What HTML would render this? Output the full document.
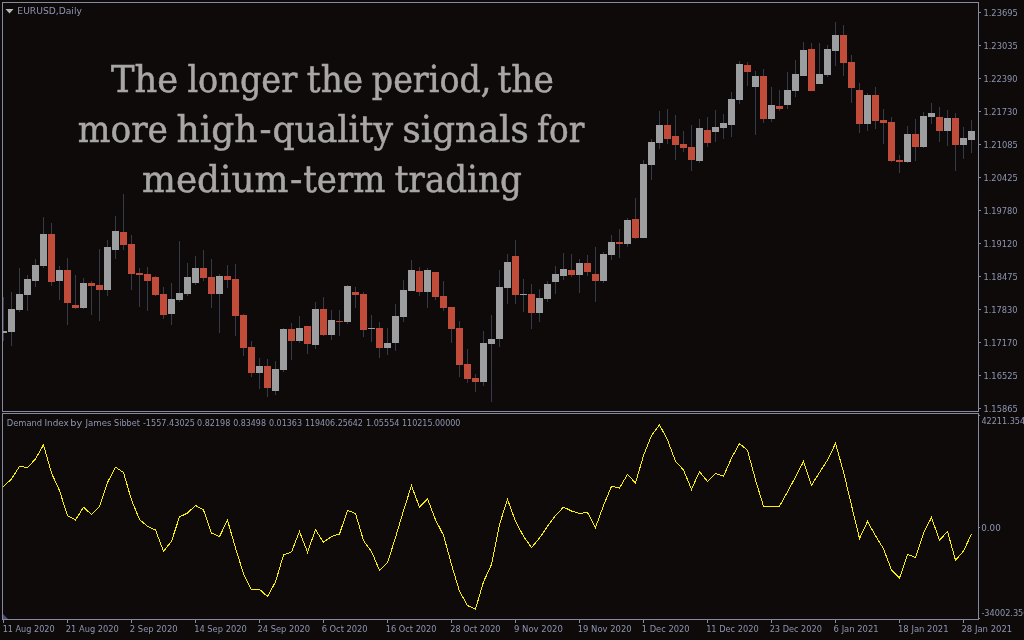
<!DOCTYPE html>
<html lang="en"><head><meta charset="utf-8"><title>EURUSD Daily - Demand Index</title>
<style>
html,body{margin:0;padding:0;background:#0e0a09;}
body{width:1024px;height:640px;overflow:hidden;position:relative;font-family:"Liberation Sans",sans-serif;}
svg{position:absolute;left:0;top:0;display:block;}
.t{font-family:"DejaVu Sans Condensed","Liberation Sans",sans-serif;font-size:9.5px;fill:#8d95b0;}
.h{font-family:"DejaVu Serif Condensed","DejaVu Serif","Liberation Serif",serif;font-size:37.5px;fill:#a8a7a6;stroke:#a8a7a6;stroke-width:0.5px;}
</style></head><body>
<svg width="1024" height="640" viewBox="0 0 1024 640">
<rect x="0" y="0" width="1024" height="640" fill="#0e0a09"/>
<g shape-rendering="crispEdges">
<path d="M3 297v44M11 292v54M19 268v44M27 275v36M35 259v28M43 217v51M51 223v63M59 266v34M67 258v67M75 275v34M83 278v31M91 281v34M99 249v72M107 240v56M115 216v43M123 194v56M131 235v55M139 268v39M147 267v44M155 276v20M163 287v32M171 283v42M179 241v61M187 263v33M195 256v29M203 250v31M211 259v49M219 274v59M227 265v23M235 264v72M243 314v42M251 341v36M259 358v31M267 359v38M275 361v34M283 328v44M291 323v37M299 316v27M307 326v28M315 302v47M323 297v39M331 310v30M339 310v26M347 285v39M355 287v21M363 292v45M371 315v27M379 322v36M387 328v27M395 304v47M403 280v42M411 260v31M419 267v29M427 268v40M435 272v28M443 281v30M451 307v36M459 321v56M467 349v34M475 374v18M483 331v55M491 315v87M499 270v77M507 254v50M515 240v64M523 279v33M531 284v45M539 289v33M547 281v21M555 266v28M563 253v27M571 254v23M579 259v34M587 255v21M595 247v55M603 252v31M611 235v25M619 229v29M627 218v29M635 198v41M643 160v78M651 139v41M659 111v38M667 109v35M675 115v45M683 131v21M691 125v46M699 119v44M707 117v30M715 110v32M723 114v25M731 92v45M739 61v43M747 62v24M755 71v64M763 69v54M771 87v35M779 90v21M787 72v37M795 60v37M803 42v34M811 43v48M819 43v41M827 45v32M835 22v44M843 25v51M851 55v48M859 83v50M867 93v38M875 87v42M883 109v35M891 117v45M899 155v18M907 126v37M915 119v42M923 112v36M931 103v21M939 107v35M947 110v36M955 113v58M963 127v32M971 120v33" transform="translate(0.5,0)" stroke="#343a48" stroke-width="1" fill="none"/>
<path d="M3 331h4v2h-4zM8 309h7v23h-7zM16 294h7v16h-7zM24 279h7v16h-7zM32 265h7v16h-7zM40 234h7v32h-7zM56 270h7v11h-7zM80 283h7v25h-7zM104 247h7v43h-7zM112 231h7v19h-7zM168 299h7v15h-7zM176 293h7v7h-7zM184 277h7v17h-7zM192 268h7v15h-7zM216 276h7v18h-7zM256 366h7v7h-7zM272 369h7v22h-7zM280 329h7v41h-7zM296 328h7v13h-7zM312 309h7v36h-7zM328 320h7v15h-7zM344 286h7v36h-7zM368 328h7v1h-7zM384 343h7v5h-7zM392 316h7v27h-7zM400 290h7v27h-7zM408 270h7v21h-7zM424 270h7v22h-7zM480 343h7v39h-7zM488 339h7v5h-7zM496 287h7v52h-7zM504 262h7v26h-7zM520 294h7v1h-7zM536 298h7v15h-7zM544 284h7v15h-7zM552 274h7v8h-7zM560 269h7v7h-7zM576 263h7v12h-7zM600 254h7v27h-7zM608 242h7v13h-7zM624 220h7v24h-7zM640 164h7v74h-7zM648 142h7v23h-7zM656 125h7v18h-7zM696 128h7v33h-7zM712 127h7v5h-7zM720 123h7v5h-7zM728 99h7v26h-7zM736 64h7v36h-7zM752 76h7v11h-7zM768 105h7v14h-7zM784 90h7v15h-7zM792 74h7v17h-7zM800 50h7v26h-7zM816 74h7v10h-7zM824 49h7v26h-7zM832 35h7v16h-7zM864 95h7v29h-7zM904 134h7v28h-7zM920 116h7v31h-7zM928 113h7v4h-7zM944 118h7v13h-7zM960 138h7v7h-7zM968 131h7v9h-7z" fill="#9c9d9f"/>
<path d="M48 234h7v48h-7zM64 270h7v33h-7zM72 305h7v3h-7zM88 283h7v3h-7zM96 285h7v5h-7zM120 232h7v13h-7zM128 244h7v30h-7zM136 273h7v2h-7zM144 274h7v7h-7zM152 277h7v18h-7zM160 294h7v21h-7zM200 268h7v10h-7zM208 277h7v17h-7zM224 276h7v4h-7zM232 279h7v37h-7zM240 315h7v33h-7zM248 347h7v26h-7zM264 366h7v22h-7zM288 329h7v12h-7zM304 326h7v18h-7zM320 309h7v26h-7zM336 321h7v1h-7zM352 292h7v3h-7zM360 294h7v36h-7zM376 328h7v20h-7zM416 271h7v21h-7zM432 272h7v25h-7zM440 296h7v12h-7zM448 307h7v22h-7zM456 328h7v37h-7zM464 364h7v15h-7zM472 378h7v4h-7zM512 256h7v39h-7zM528 294h7v19h-7zM568 270h7v5h-7zM584 263h7v9h-7zM592 274h7v7h-7zM616 242h7v2h-7zM632 219h7v19h-7zM664 125h7v14h-7zM672 136h7v9h-7zM680 144h7v4h-7zM688 147h7v13h-7zM704 130h7v13h-7zM744 65h7v7h-7zM760 76h7v43h-7zM776 106h7v3h-7zM808 49h7v42h-7zM840 35h7v28h-7zM848 62h7v26h-7zM856 90h7v34h-7zM872 95h7v26h-7zM880 120h7v3h-7zM888 122h7v39h-7zM896 160h7v2h-7zM912 134h7v13h-7zM936 117h7v14h-7zM952 118h7v27h-7z" fill="#c14c3a"/>
</g>
<polyline points="3.5,486.5 11.5,479 19.5,466.4 27.5,467.5 35.5,459 43.5,444.75 51.5,473.1 59.5,490.6 67.5,515.6 75.5,520 83.5,507.25 91.5,514.4 99.5,506.25 107.5,482.5 115.5,467.25 123.5,472.5 131.5,500 139.5,519.5 147.5,526.25 155.5,530 163.5,551.25 171.5,541.25 179.5,516.9 187.5,513.1 195.5,505.4 203.5,510 211.5,533.1 219.5,536.5 227.5,520.25 235.5,548.1 243.5,573.75 251.5,590 259.5,589.4 267.5,596.5 275.5,581.9 283.5,555 291.5,551.9 299.5,531.5 307.5,552.25 315.5,529.75 323.5,542.25 331.5,536.5 339.5,534 347.5,510.4 355.5,513.5 363.5,540.6 371.5,551.5 379.5,570.25 387.5,562.75 395.5,537.5 403.5,510.6 411.5,485.6 419.5,507.25 427.5,498.75 435.5,519.75 443.5,535.3 451.5,564.5 459.5,591.25 467.5,605.6 475.5,609 483.5,581.9 491.5,564.4 499.5,524.4 507.5,499.4 515.5,521.25 523.5,536.25 531.5,547.5 539.5,538.1 547.5,526.25 555.5,515.6 563.5,507.1 571.5,511 579.5,513.5 587.5,512.5 595.5,527.5 603.5,505.6 611.5,486.25 619.5,488.1 627.5,474.4 635.5,483.1 643.5,455.6 651.5,435.6 659.5,424.75 667.5,440 675.5,461.25 683.5,470 691.5,489.4 699.5,471.6 707.5,481.5 715.5,473.5 723.5,476.25 731.5,458.1 739.5,443.5 747.5,450.25 755.5,480 763.5,506.25 771.5,506.25 779.5,506.25 787.5,491.9 795.5,477 803.5,461.5 811.5,485.25 819.5,472.5 827.5,460 835.5,443.5 843.5,471.9 851.5,505.3 859.5,538.5 867.5,521.5 875.5,535.6 883.5,548.75 891.5,570 899.5,578.1 907.5,554.4 915.5,557.5 923.5,533.1 931.5,517.5 939.5,540.25 947.5,531.5 955.5,560.25 963.5,551 971.5,534" fill="none" stroke="#fcef08" stroke-width="1" shape-rendering="crispEdges"/>
<g shape-rendering="crispEdges" fill="#858aa0">
<rect x="2" y="2" width="977" height="1"/>
<rect x="2" y="2" width="1" height="618"/>
<rect x="978" y="2" width="1" height="618"/>
<rect x="2" y="411" width="977" height="1"/>
<rect x="2" y="413" width="977" height="1"/>
<rect x="2" y="619" width="977" height="1"/>
<rect x="979" y="12" width="2" height="1"/>
<rect x="979" y="45" width="2" height="1"/>
<rect x="979" y="78" width="2" height="1"/>
<rect x="979" y="111" width="2" height="1"/>
<rect x="979" y="144" width="2" height="1"/>
<rect x="979" y="177" width="2" height="1"/>
<rect x="979" y="210" width="2" height="1"/>
<rect x="979" y="243" width="2" height="1"/>
<rect x="979" y="276" width="2" height="1"/>
<rect x="979" y="309" width="2" height="1"/>
<rect x="979" y="342" width="2" height="1"/>
<rect x="979" y="375" width="2" height="1"/>
<rect x="979" y="408" width="2" height="1"/>
<rect x="979" y="415" width="1" height="1"/>
<rect x="979" y="527" width="1" height="1"/>
<rect x="979" y="618" width="1" height="1"/>
<rect x="3" y="620" width="1" height="3"/>
<rect x="67" y="620" width="1" height="3"/>
<rect x="131" y="620" width="1" height="3"/>
<rect x="195" y="620" width="1" height="3"/>
<rect x="259" y="620" width="1" height="3"/>
<rect x="323" y="620" width="1" height="3"/>
<rect x="387" y="620" width="1" height="3"/>
<rect x="451" y="620" width="1" height="3"/>
<rect x="515" y="620" width="1" height="3"/>
<rect x="579" y="620" width="1" height="3"/>
<rect x="643" y="620" width="1" height="3"/>
<rect x="707" y="620" width="1" height="3"/>
<rect x="771" y="620" width="1" height="3"/>
<rect x="835" y="620" width="1" height="3"/>
<rect x="899" y="620" width="1" height="3"/>
<rect x="963" y="620" width="1" height="3"/>
</g>
<rect x="0" y="412" width="1024" height="1" fill="#0e0a09"/>
<path d="M3 614L8 619H3z" fill="#474c7a"/>
<path d="M5.5 9H13.5L9.5 13.4z" fill="#b8b8b8"/>
<text class="t" x="17.39" y="14" textLength="64.51" lengthAdjust="spacingAndGlyphs">EURUSD,Daily</text>
<text class="t" x="983.43" y="16" textLength="34.36" lengthAdjust="spacingAndGlyphs">1.23695</text>
<text class="t" x="983.43" y="49" textLength="34.36" lengthAdjust="spacingAndGlyphs">1.23035</text>
<text class="t" x="983.44" y="82" textLength="34.11" lengthAdjust="spacingAndGlyphs">1.22390</text>
<text class="t" x="983.44" y="115" textLength="34.11" lengthAdjust="spacingAndGlyphs">1.21730</text>
<text class="t" x="983.43" y="148" textLength="34.36" lengthAdjust="spacingAndGlyphs">1.21085</text>
<text class="t" x="983.43" y="181" textLength="34.36" lengthAdjust="spacingAndGlyphs">1.20425</text>
<text class="t" x="983.44" y="214" textLength="34.11" lengthAdjust="spacingAndGlyphs">1.19780</text>
<text class="t" x="983.44" y="247" textLength="34.11" lengthAdjust="spacingAndGlyphs">1.19120</text>
<text class="t" x="983.43" y="280" textLength="34.36" lengthAdjust="spacingAndGlyphs">1.18475</text>
<text class="t" x="983.44" y="313" textLength="34.11" lengthAdjust="spacingAndGlyphs">1.17830</text>
<text class="t" x="983.44" y="346" textLength="34.11" lengthAdjust="spacingAndGlyphs">1.17170</text>
<text class="t" x="983.43" y="379" textLength="34.36" lengthAdjust="spacingAndGlyphs">1.16525</text>
<text class="t" x="983.43" y="412" textLength="34.36" lengthAdjust="spacingAndGlyphs">1.15865</text>
<text class="t" x="981.44" y="424" textLength="48.77" lengthAdjust="spacingAndGlyphs">42211.3544</text>
<text class="t" x="981.29" y="531" textLength="19.41" lengthAdjust="spacingAndGlyphs">0.00</text>
<text class="t" x="981.43" y="616" textLength="52.28" lengthAdjust="spacingAndGlyphs">-34002.3508</text>
<text class="t" x="2.68" y="632" textLength="51.95" lengthAdjust="spacingAndGlyphs">11 Aug 2020</text>
<text class="t" x="65.83" y="632" textLength="53.0" lengthAdjust="spacingAndGlyphs">21 Aug 2020</text>
<text class="t" x="129.83" y="632" textLength="47.8" lengthAdjust="spacingAndGlyphs">2 Sep 2020</text>
<text class="t" x="194.14" y="632" textLength="52.65" lengthAdjust="spacingAndGlyphs">14 Sep 2020</text>
<text class="t" x="257.45" y="632" textLength="52.68" lengthAdjust="spacingAndGlyphs">24 Sep 2020</text>
<text class="t" x="321.63" y="632" textLength="46.03" lengthAdjust="spacingAndGlyphs">6 Oct 2020</text>
<text class="t" x="385.8" y="632" textLength="50.75" lengthAdjust="spacingAndGlyphs">16 Oct 2020</text>
<text class="t" x="450.32" y="632" textLength="50.19" lengthAdjust="spacingAndGlyphs">28 Oct 2020</text>
<text class="t" x="514.0" y="632" textLength="48.91" lengthAdjust="spacingAndGlyphs">9 Nov 2020</text>
<text class="t" x="577.75" y="632" textLength="53.88" lengthAdjust="spacingAndGlyphs">19 Nov 2020</text>
<text class="t" x="641.79" y="632" textLength="47.79" lengthAdjust="spacingAndGlyphs">1 Dec 2020</text>
<text class="t" x="706.14" y="632" textLength="52.56" lengthAdjust="spacingAndGlyphs">11 Dec 2020</text>
<text class="t" x="769.64" y="632" textLength="52.26" lengthAdjust="spacingAndGlyphs">23 Dec 2020</text>
<text class="t" x="833.61" y="632" textLength="45.05" lengthAdjust="spacingAndGlyphs">6 Jan 2021</text>
<text class="t" x="898.01" y="632" textLength="50.53" lengthAdjust="spacingAndGlyphs">18 Jan 2021</text>
<text class="t" x="961.42" y="632" textLength="50.84" lengthAdjust="spacingAndGlyphs">28 Jan 2021</text>
<text class="t" y="426"><tspan x="6.71" textLength="35.43" lengthAdjust="spacingAndGlyphs">Demand</tspan> <tspan x="44.49" textLength="24.38" lengthAdjust="spacingAndGlyphs">Index</tspan> <tspan x="70.25" textLength="12.0" lengthAdjust="spacingAndGlyphs">by</tspan> <tspan x="85.41" textLength="26.03" lengthAdjust="spacingAndGlyphs">James</tspan> <tspan x="114.07" textLength="25.84" lengthAdjust="spacingAndGlyphs">Sibbet</tspan> <tspan x="142.9" textLength="52.01" lengthAdjust="spacingAndGlyphs">-1557.43025</tspan> <tspan x="197.0" textLength="33.32" lengthAdjust="spacingAndGlyphs">0.82198</tspan> <tspan x="233.29" textLength="32.64" lengthAdjust="spacingAndGlyphs">0.83498</tspan> <tspan x="269.0" textLength="33.03" lengthAdjust="spacingAndGlyphs">0.01363</tspan> <tspan x="304.91" textLength="57.97" lengthAdjust="spacingAndGlyphs">119406.25642</tspan> <tspan x="365.97" textLength="33.51" lengthAdjust="spacingAndGlyphs">1.05554</tspan> <tspan x="401.99" textLength="58.46" lengthAdjust="spacingAndGlyphs">110215.00000</tspan></text>
<text class="h" y="91.8"><tspan x="110.98" textLength="67.18" lengthAdjust="spacingAndGlyphs">The</tspan> <tspan x="187.38" textLength="109.84" lengthAdjust="spacingAndGlyphs">longer</tspan> <tspan x="306.86" textLength="56.21" lengthAdjust="spacingAndGlyphs">the</tspan> <tspan x="371.85" textLength="119.52" lengthAdjust="spacingAndGlyphs">period,</tspan> <tspan x="497.44" textLength="56.31" lengthAdjust="spacingAndGlyphs">the</tspan></text>
<text class="h" y="141.8"><tspan x="77.81" textLength="90.19" lengthAdjust="spacingAndGlyphs">more</tspan> <tspan x="176.5" textLength="80.84" lengthAdjust="spacingAndGlyphs">high</tspan><tspan x="259.54" textLength="11.98" lengthAdjust="spacingAndGlyphs">-</tspan><tspan x="272.5" textLength="120.42" lengthAdjust="spacingAndGlyphs">quality</tspan> <tspan x="402.51" textLength="126.28" lengthAdjust="spacingAndGlyphs">signals</tspan> <tspan x="536.99" textLength="47.29" lengthAdjust="spacingAndGlyphs">for</tspan></text>
<text class="h" y="191.8"><tspan x="142.03" textLength="146.31" lengthAdjust="spacingAndGlyphs">medium</tspan><tspan x="290.12" textLength="12.39" lengthAdjust="spacingAndGlyphs">-</tspan><tspan x="303.22" textLength="82.13" lengthAdjust="spacingAndGlyphs">term</tspan> <tspan x="394.87" textLength="126.93" lengthAdjust="spacingAndGlyphs">trading</tspan></text>
</svg>
</body></html>
